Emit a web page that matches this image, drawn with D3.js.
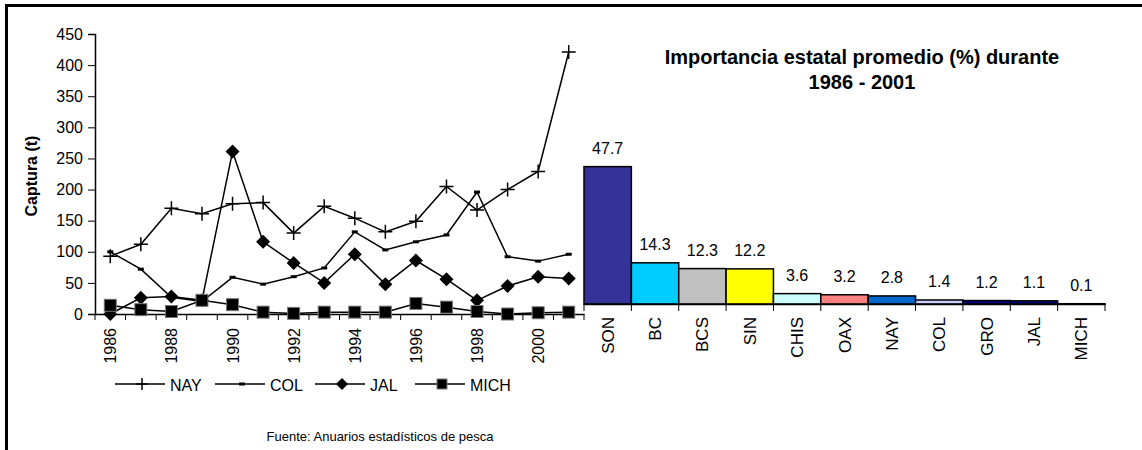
<!DOCTYPE html>
<html lang="es">
<head>
<meta charset="UTF-8">
<title>Captura e importancia estatal</title>
<script src="https://d3js.org/d3.v7.min.js"></script>
<style>
  body { margin: 0; background: #fff; font-family: "Liberation Sans", Arial, sans-serif; }
  svg text { fill: #000; font-family: "Liberation Sans", Arial, sans-serif; }
</style>
</head>
<body>
<div id="chart"></div>
<script>
// line chart data (t)
var years = d3.range(1986, 2002);
var yearLabels = ["1986", "1988", "1990", "1992", "1994", "1996", "1998", "2000"];
var nay  = [93, 112, 170, 161, 177, 179, 130, 173, 154, 132, 149, 205, 167, 200, 229, 421];
var col  = [100, 72, 27, 20, 59, 48, 60, 74, 132, 103, 116, 127, 196, 92, 85, 96];
var jal  = [0, 26, 28, 22, 261, 116, 82, 50, 96, 48, 86, 56, 22, 45, 60, 57];
var mich = [14, 7, 4, 22, 15, 3, 1, 3, 3, 3, 17, 11, 4, 0, 2, 3];
var yTicks = [0, 50, 100, 150, 200, 250, 300, 350, 400, 450];

// bar chart data (%)
var states = ["SON", "BC", "BCS", "SIN", "CHIS", "OAX", "NAY", "COL", "GRO", "JAL", "MICH"];
var shares = [47.7, 14.3, 12.3, 12.2, 3.6, 3.2, 2.8, 1.4, 1.2, 1.1, 0.1];
var barColors = ["#333399", "#00ccff", "#c0c0c0", "#ffff00", "#ccffff", "#ff8080",
                 "#0066cc", "#ccccff", "#000080", "#000080", "#ffffff"];

var W = 1142, H = 450;
var svg = d3.select("#chart").append("svg").attr("width", W).attr("height", H);

// frame
svg.append("line").attr("x1", 5).attr("x2", W).attr("y1", 5.5).attr("y2", 5.5)
  .attr("stroke", "#000").attr("stroke-width", 3);
svg.append("line").attr("x1", 6.5).attr("x2", 6.5).attr("y1", 4).attr("y2", H)
  .attr("stroke", "#000").attr("stroke-width", 3);

// ---- line chart ----
var x = d3.scaleBand().domain(years).range([95, 584]);
var y = d3.scaleLinear().domain([0, 450]).range([314, 34]);

var gy = svg.append("g").attr("transform", "translate(95,0)")
  .call(d3.axisLeft(y).tickValues(yTicks).tickSize(7).tickPadding(5));
var gx = svg.append("g").attr("transform", "translate(0,314)")
  .call(d3.axisBottom(x).tickValues([]).tickSizeOuter(0));
// category boundary ticks
gx.selectAll(".bt").data(d3.range(years.length + 1)).enter().append("line")
  .attr("x1", function(i) { return 95 + i * x.step(); })
  .attr("x2", function(i) { return 95 + i * x.step(); })
  .attr("y1", 0).attr("y2", 6).attr("stroke", "#000");
gx.selectAll(".yl").data(yearLabels).enter().append("text")
  .attr("transform", function(d) { return "translate(" + (x(+d) + x.bandwidth() / 2 + 6) + ",14) rotate(-90)"; })
  .attr("text-anchor", "end").style("font-size", "16px").text(function(d) { return d; });

[gy, gx].forEach(function(g) {
  g.select(".domain").attr("stroke", "#000").attr("stroke-width", 1.5);
  g.selectAll(".tick line").attr("stroke", "#000");
  g.selectAll(".tick text").style("font-size", "16px");
});

svg.append("text")
  .attr("transform", "translate(37,176) rotate(-90)")
  .attr("text-anchor", "middle").style("font-size", "16px").style("font-weight", "bold")
  .text("Captura (t)");

var cx = function(i) { return x(years[i]) + x.bandwidth() / 2; };
var line = d3.line().x(function(d, i) { return cx(i); }).y(function(d) { return y(d); });

var series = [
  { name: "NAY", values: nay, mark: "plus" },
  { name: "COL", values: col, mark: "dash" },
  { name: "JAL", values: jal, mark: "diamond" },
  { name: "MICH", values: mich, mark: "square" }
];

function drawMarker(g, type, px, py, r) {
  if (type === "plus") {
    g.append("path").attr("d", "M" + (px - r) + "," + py + "h" + 2 * r + "M" + px + "," + (py - r) + "v" + 2 * r)
      .attr("stroke", "#000").attr("stroke-width", 1.5).attr("fill", "none");
  } else if (type === "dash") {
    g.append("rect").attr("x", px - 3).attr("y", py - 1.5).attr("width", 6).attr("height", 3).attr("fill", "#000");
  } else if (type === "diamond") {
    g.append("path").attr("d", "M" + px + "," + (py - r) + "L" + (px + r) + "," + py + "L" + px + "," + (py + r) + "L" + (px - r) + "," + py + "Z")
      .attr("fill", "#000");
  } else {
    g.append("rect").attr("x", px - r + 1).attr("y", py - r + 1).attr("width", 2 * r - 2).attr("height", 2 * r - 2)
      .attr("fill", "#000").attr("stroke", "#777").attr("stroke-width", 1);
  }
}

series.forEach(function(s) {
  svg.append("path").datum(s.values).attr("d", line)
    .attr("fill", "none").attr("stroke", "#000").attr("stroke-width", 1.5);
  var g = svg.append("g");
  s.values.forEach(function(v, i) { drawMarker(g, s.mark, cx(i), y(v), 7); });
});

// legend
var legend = svg.append("g").attr("transform", "translate(115,384)");
series.forEach(function(s, i) {
  var lg = legend.append("g").attr("transform", "translate(" + (i * 100) + ",0)");
  lg.append("line").attr("x1", 0).attr("x2", 50).attr("stroke", "#000").attr("stroke-width", 1.5);
  drawMarker(lg, s.mark, 27, 0, 6);
  lg.append("text").attr("x", 55).attr("y", 7).style("font-size", "16px").text(s.name);
});

svg.append("text").attr("x", 380).attr("y", 441).attr("text-anchor", "middle")
  .style("font-size", "13px").text("Fuente: Anuarios estadísticos de pesca");

// ---- bar chart ----
var xb = d3.scaleBand().domain(states).range([584, 1105]).padding(0);
var yb = d3.scaleLinear().domain([0, 50]).range([304, 160]);

svg.selectAll(".bar").data(states).enter().append("rect")
  .attr("x", function(d) { return xb(d); })
  .attr("y", function(d, i) { return yb(shares[i]); })
  .attr("width", xb.bandwidth())
  .attr("height", function(d, i) { return yb(0) - yb(shares[i]); })
  .attr("fill", function(d, i) { return barColors[i]; })
  .attr("stroke", "#000").attr("stroke-width", 1.5);

svg.selectAll(".val").data(states).enter().append("text")
  .attr("x", function(d) { return xb(d) + xb.bandwidth() / 2; })
  .attr("y", function(d, i) { return yb(shares[i]) - 13; })
  .attr("text-anchor", "middle").style("font-size", "16px")
  .text(function(d, i) { return shares[i].toFixed(1); });

var gb = svg.append("g").attr("transform", "translate(0,304)")
  .call(d3.axisBottom(xb).tickSize(0).tickSizeOuter(0));
gb.select(".domain").attr("stroke", "#000").attr("stroke-width", 1.5);
gb.selectAll(".tick text")
  .attr("transform", "translate(6,13) rotate(-90)").attr("x", 0).attr("y", 0).attr("dy", 0)
  .attr("text-anchor", "end").style("font-size", "17px");
gb.selectAll(".bt").data(d3.range(states.length + 1)).enter().append("line")
  .attr("x1", function(i) { return 584 + i * xb.step(); })
  .attr("x2", function(i) { return 584 + i * xb.step(); })
  .attr("y1", 0).attr("y2", 7).attr("stroke", "#000");

svg.append("text").attr("x", 862).attr("y", 64).attr("text-anchor", "middle")
  .style("font-size", "20px").style("font-weight", "bold")
  .text("Importancia estatal promedio (%) durante");
svg.append("text").attr("x", 862).attr("y", 89).attr("text-anchor", "middle")
  .style("font-size", "20px").style("font-weight", "bold")
  .text("1986 - 2001");
</script>
</body>
</html>
